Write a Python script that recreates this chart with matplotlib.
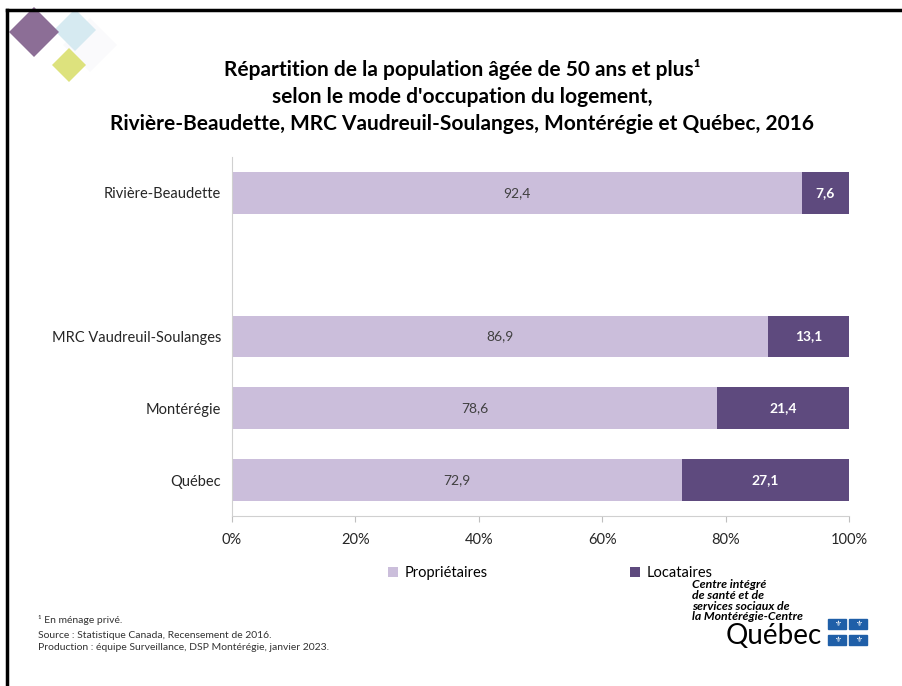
import matplotlib
matplotlib.use("Agg")
import matplotlib.pyplot as plt
from matplotlib.patches import Rectangle, Polygon
import numpy as np

# ==== DATA ====
categories = ["Rivière-Beaudette", "", "MRC Vaudreuil-Soulanges", "Montérégie", "Québec"]
proprietaires = [92.4, np.nan, 86.9, 78.6, 72.9]
locataires = [7.6, np.nan, 13.1, 21.4, 27.1]
xticks = [0, 20, 40, 60, 80, 100]
xtick_labels = ["0%", "20%", "40%", "60%", "80%", "100%"]
series_names = ["Propriétaires", "Locataires"]

c_light = "#CBBEDB"
c_dark = "#5E4A7E"
FONT = ["Lato", "DejaVu Sans"]

plt.rcParams["font.family"] = FONT

fig = plt.figure(figsize=(9.02, 6.86), dpi=100)
W, H = 902, 686

def fx(px):
    return px / W

def fy(py):
    return 1 - py / H

# ==== AXES ====
ax = fig.add_axes([fx(232), fy(516), fx(849) - fx(232), fy(157) - fy(516)])
y = np.arange(len(categories))
ax.barh(y, proprietaires, height=0.58, color=c_light, label=series_names[0])
ax.barh(y, locataires, left=proprietaires, height=0.58, color=c_dark, label=series_names[1])

for i in range(len(categories)):
    p, l = proprietaires[i], locataires[i]
    if np.isnan(p):
        continue
    ax.text(p / 2, i, f"{p:.1f}".replace(".", ","), ha="center", va="center",
            fontsize=10, color="#404040")
    ax.text(p + l / 2, i, f"{l:.1f}".replace(".", ","), ha="center", va="center",
            fontsize=10, color="white", fontweight="bold")

ax.set_xlim(0, 100)
ax.set_ylim(len(categories) - 0.5, -0.5)
ax.set_yticks(y)
ax.set_yticklabels(categories, fontsize=10.5, color="#262626")
ax.set_xticks(xticks)
ax.set_xticklabels(xtick_labels, fontsize=10.5, color="#262626")
ax.tick_params(axis="y", length=0, pad=8)
ax.tick_params(axis="x", length=4, color="#BFBFBF", pad=8)
for s in ["top", "right"]:
    ax.spines[s].set_visible(False)
ax.spines["left"].set_color("#D0D0D0")
ax.spines["bottom"].set_color("#D0D0D0")

# legend
h, lab = ax.get_legend_handles_labels()
fig.legend([h[0]], [lab[0]], loc="center left", bbox_to_anchor=(fx(375), fy(573)),
           frameon=False, fontsize=10.5, handlelength=0.7, handleheight=0.7, handletextpad=0.4)
fig.legend([h[1]], [lab[1]], loc="center left", bbox_to_anchor=(fx(617), fy(573)),
           frameon=False, fontsize=10.5, handlelength=0.7, handleheight=0.7, handletextpad=0.4)

# ==== TITLE ====
title_lines = ["Répartition de la population âgée de 50 ans et plus¹",
               "selon le mode d'occupation du logement,",
               "Rivière-Beaudette, MRC Vaudreuil-Soulanges, Montérégie et Québec, 2016"]
for k, t in enumerate(title_lines):
    fig.text(fx(462), fy(70 + 27 * k), t, ha="center", va="center",
             fontsize=15, fontweight="bold", color="black")

# ==== FOOTNOTES ====
fig.text(fx(38), fy(620), "¹ En ménage privé.", fontsize=7.5, va="center", color="#333333")
fig.text(fx(38), fy(635), "Source : Statistique Canada, Recensement de 2016.", fontsize=7.5,
         va="center", color="#333333")
fig.text(fx(38), fy(648), "Production : équipe Surveillance, DSP Montérégie, janvier 2023.",
         fontsize=7.5, va="center", color="#333333")

# ==== LOGO ====
logo_lines = ["Centre intégré", "de santé et de", "services sociaux de", "la Montérégie-Centre"]
for k, t in enumerate(logo_lines):
    fig.text(fx(692), fy(585 + 10.5 * k), t, fontsize=8.8, fontweight="bold", style="italic",
             va="center", ha="left", color="black")
fig.text(fx(774), fy(636), "Québec", fontsize=20, ha="center", va="center", color="black")
for cx, cy in [(837, 624), (858, 624), (837, 640), (858, 640)]:
    fig.patches.append(Rectangle((fx(cx - 9), fy(cy + 5)), fx(18), fy(0) - fy(10),
                                 transform=fig.transFigure, color="#1F5FA8"))
    fig.text(fx(cx), fy(cy), "⚜", fontsize=5.5, color="white", ha="center", va="center",
             family="DejaVu Sans")

# corner diamonds
def diamond(cx, cy, r, color, alpha=1.0):
    pts = [(fx(cx), fy(cy - r)), (fx(cx + r), fy(cy)), (fx(cx), fy(cy + r)), (fx(cx - r), fy(cy))]
    fig.patches.append(Polygon(pts, closed=True, transform=fig.transFigure,
                               facecolor=color, edgecolor="none", alpha=alpha))

diamond(90, 45, 27, "#FAFAFC")
diamond(75, 30, 21, "#D6EAF1")
diamond(34, 32, 25, "#8C6E96")
diamond(69, 65, 17, "#DDE27D")

# border
fig.add_artist(plt.Line2D([fx(7), fx(7)], [fy(10), 0], transform=fig.transFigure,
                          color="black", lw=2.5))
fig.add_artist(plt.Line2D([fx(7), 1], [fy(10), fy(10)], transform=fig.transFigure,
                          color="black", lw=2.5))

fig.savefig("out.png", dpi=100)
